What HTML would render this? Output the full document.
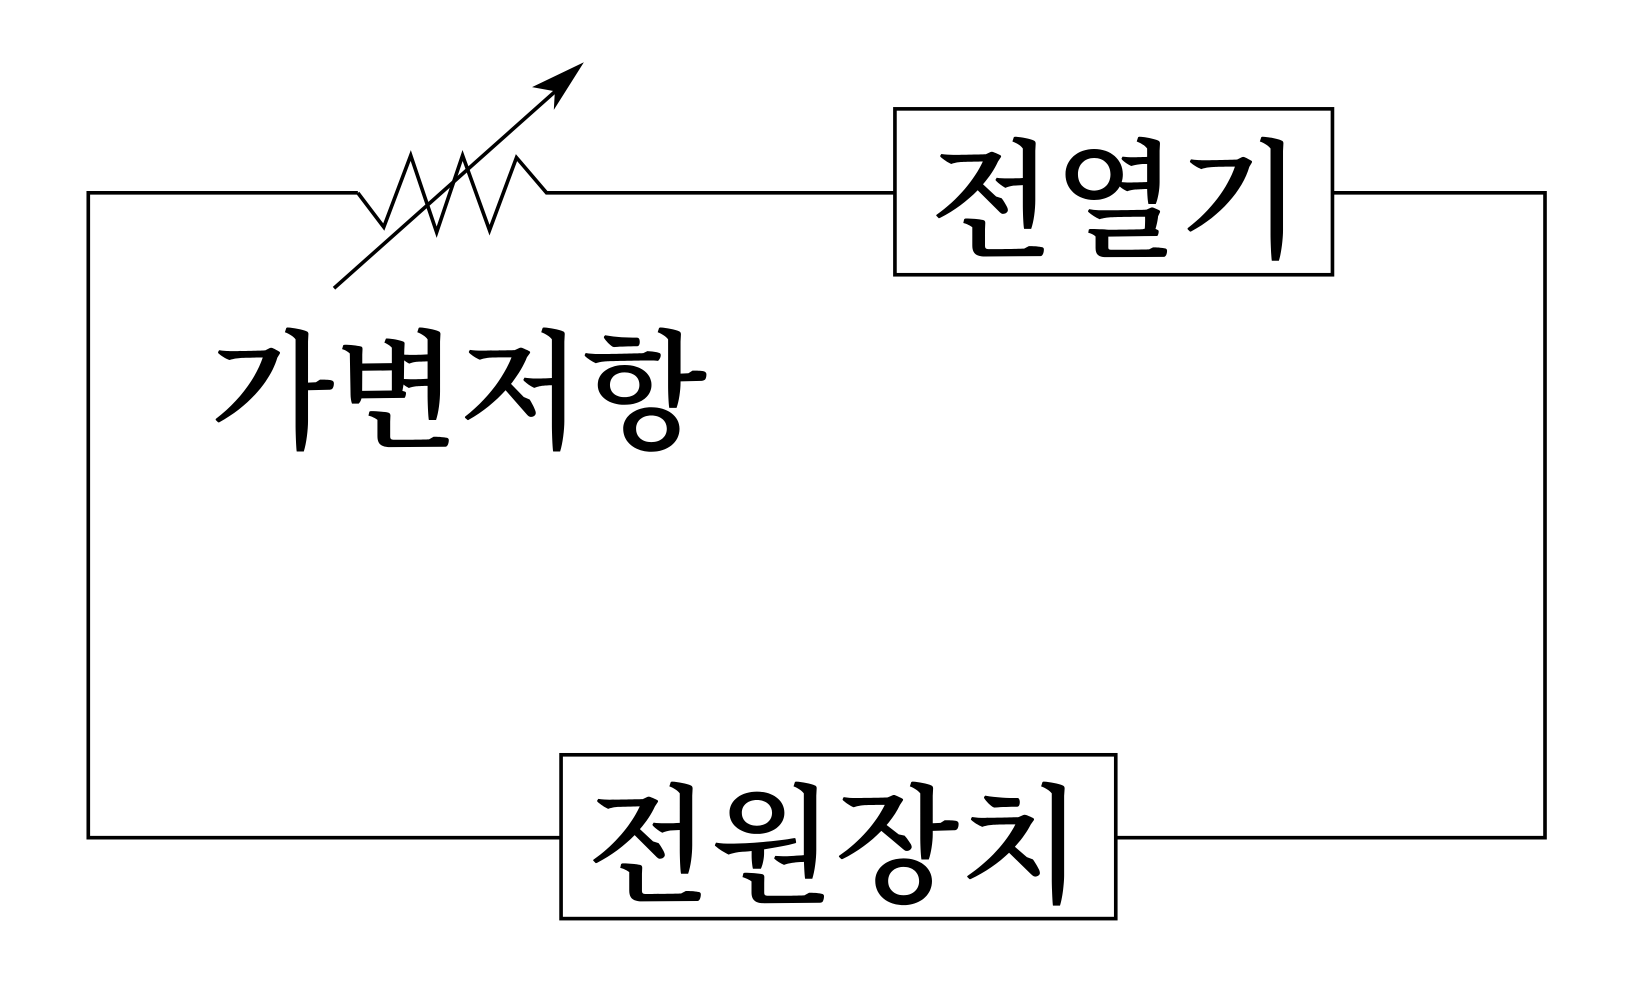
<!DOCTYPE html>
<html><head><meta charset="utf-8"><style>html,body{margin:0;padding:0;background:#fff}</style></head>
<body>
<svg width="1625" height="1000" viewBox="0 0 1567 964.5" xmlns="http://www.w3.org/2000/svg">
<g fill="none" stroke="#000" stroke-width="3.5">
<polyline points="345,186 85,186 85,808 541,808"/>
<polyline points="1076,808 1490,808 1490,186 1285,186"/>
<polyline points="863,186 527,186 498,152 472,222 446,150 421,224 396,150 370,219 345,186"/>
<rect x="863" y="105" width="422" height="160"/>
<rect x="541" y="728" width="535" height="158"/>
<line x1="322" y1="278" x2="540" y2="84"/>
</g>
<polygon points="563,60 513,84 535,88 534,106" fill="#000"/>
<g font-family="'Noto Serif CJK KR','Noto Serif CJK SC','Liberation Serif',serif" font-size="124" font-weight="600" fill="#000" text-anchor="middle">
<text x="1076" y="238">전열기</text>
<text x="805" y="860">전원장치</text>
<text x="442" y="422">가변저항</text>
</g>
</svg>
</body></html>
